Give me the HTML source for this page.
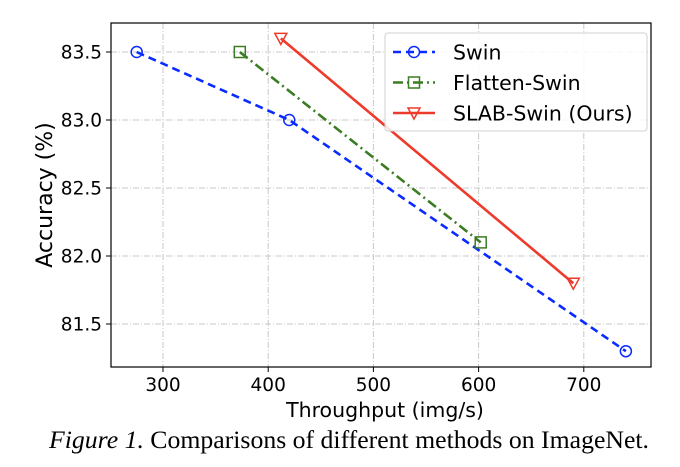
<!DOCTYPE html>
<html><head><meta charset="utf-8"><style>
body{margin:0;background:#fff;width:680px;height:462px;overflow:hidden}
</style></head><body>
<svg id="chart" width="680" height="462" xmlns="http://www.w3.org/2000/svg" font-family="'DejaVu Sans', 'Liberation Sans', sans-serif">
<text x="349" y="448" text-anchor="middle" font-family="'Liberation Serif', serif" font-size="25" textLength="600" lengthAdjust="spacingAndGlyphs"><tspan font-style="italic">Figure 1.</tspan> Comparisons of different methods on ImageNet.</text>
</svg>
<script>
const xTicks=[300,400,500,600,700];
const yTicks=[81.5,82.0,82.5,83.0,83.5];
const seriesNames=["Swin","Flatten-Swin","SLAB-Swin (Ours)"];
const swinX=[275,420,740];
const swinY=[83.5,83.0,81.3];
const flattenX=[373,602];
const flattenY=[83.5,82.1];
const slabX=[412,690];
const slabY=[83.6,81.8];

const L=111,R=651,T=23,B=367;
const X=v=>163+(v-300)*1.052;
const Y=v=>52+(83.5-v)*136;
const svg=document.getElementById('chart');
const NS='http://www.w3.org/2000/svg';
function mk(tag,attrs,parent){const e=document.createElementNS(NS,tag);for(const k in attrs)e.setAttribute(k,attrs[k]);(parent||svg).appendChild(e);return e;}

xTicks.forEach(t=>{
  const g=mk('line',{x1:X(t),x2:X(t),y1:T,y2:B,stroke:'#c8c8c8','stroke-width':1,'stroke-dasharray':'6 2 1 2'});
  
  
  const tk=mk('line',{x1:X(t),x2:X(t),y1:B,y2:B+5,stroke:'#000'});
  
  
  const tx=mk('text',{x:X(t),y:B+24,'text-anchor':'middle','font-size':18.5});
  tx.textContent=t;
  
  
});
yTicks.forEach(t=>{
  const g=mk('line',{x1:L,x2:R,y1:Y(t),y2:Y(t),stroke:'#c8c8c8','stroke-width':1,'stroke-dasharray':'6 2 1 2'});
  
  
  const tk=mk('line',{x1:L-5,x2:L,y1:Y(t),y2:Y(t),stroke:'#000'});
  
  
  const tx=mk('text',{x:L-9,y:Y(t)+6.5,'text-anchor':'end','font-size':18.5});
  tx.textContent=t.toFixed(1);
  
  
});
const frame=mk('rect',{x:L,y:T,width:R-L,height:B-T,fill:'none',stroke:'#000','stroke-width':1.2});



const xt=mk('text',{x:385,y:417,'text-anchor':'middle','font-size':20.5});
xt.textContent='Throughput (img/s)';


const yt=mk('text',{x:0,y:0,'text-anchor':'middle','font-size':22,transform:'translate(52,195) rotate(-90)'});
yt.textContent='Accuracy (%)';



function marker(type,cx,cy,color,name){
  let e;
  if(type==='o'){e=mk('circle',{cx:cx,cy:cy,r:5.5,fill:'none',stroke:color,'stroke-width':1.5});}
  else if(type==='s'){e=mk('rect',{x:cx-5.5,y:cy-5.5,width:11,height:11,fill:'none',stroke:color,'stroke-width':1.5});}
  else {e=mk('polygon',{points:`${cx-6},${cy-5} ${cx+6},${cy-5} ${cx},${cy+6}`,fill:'none',stroke:color,'stroke-width':1.5});}
  
  
}
const series=[
 {xs:swinX,ys:swinY,color:'#0a2bff',dash:'8 5',m:'o',name:'swin'},
 {xs:flattenX,ys:flattenY,color:'#3a7d22',dash:'10 4 2 4',m:'s',name:'flatten-swin'},
 {xs:slabX,ys:slabY,color:'#ee3a2a',dash:'',m:'v',name:'slab-swin'}
];
series.forEach(s=>{
  const pts=s.xs.map((x,i)=>X(x)+','+Y(s.ys[i])).join(' ');
  const pl=mk('polyline',{points:pts,fill:'none',stroke:s.color,'stroke-width':2.6,'stroke-dasharray':s.dash});
  
  
  s.xs.forEach((x,i)=>marker(s.m,X(x),Y(s.ys[i]),s.color,s.name+'-point'));
});

const lg=mk('rect',{x:385,y:33,width:262,height:98,rx:3,fill:'#fff','fill-opacity':0.85,stroke:'#d0d0d0'});


series.forEach((s,i)=>{
  const y=52+i*30.5;
  const ln=mk('line',{x1:393,x2:435,y1:y,y2:y,stroke:s.color,'stroke-width':2.6,'stroke-dasharray':s.dash});
  
  
  marker(s.m,414,y,s.color,'legend-marker');
  const t=mk('text',{x:453,y:y+7.5,'font-size':20.5});
  t.textContent=seriesNames[i];
  
  
});
</script>
</body></html>
